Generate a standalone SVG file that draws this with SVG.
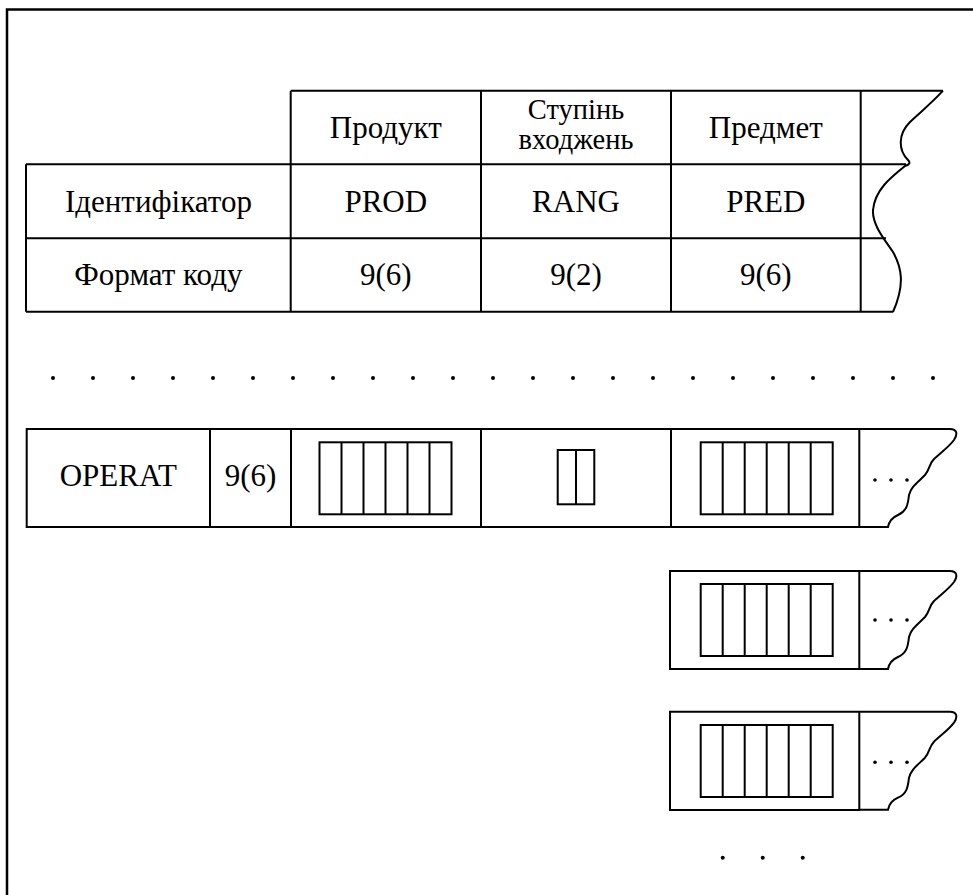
<svg xmlns="http://www.w3.org/2000/svg" xmlns:xlink="http://www.w3.org/1999/xlink" width="973" height="895" viewBox="0 0 973 895">
  <style>
    .ln { fill: none; stroke: #000; stroke-width: 2; }
    .frame { fill: none; stroke: #000; stroke-width: 2.5; }
    .cells { fill: none; stroke: #000; stroke-width: 2; }
    .t { font-family: "Liberation Serif", "DejaVu Serif", serif; font-size: 31px; fill: #000; text-anchor: middle; }
    .ts { font-family: "Liberation Serif", "DejaVu Serif", serif; font-size: 28.5px; fill: #000; text-anchor: middle; }
    .dot { fill: #000; }
  </style>
  <defs>
    <!-- torn right end of a record row, drawn from its top-left corner at x=859 -->
    <path id="torn" class="ln" d="M859,0 H950 C957,0 958,5 954,11 C948,19 940,24 934,30 C929,35 930,40 925,46 C917,54 911,58 909,66 C908,75 907,82 898,86 C891,89 889,93 888,98 H859"/>
    <!-- six-digit code field -->
    <g id="field6">
      <rect class="cells" x="0" y="0" width="132" height="72"/>
      <path class="cells" d="M22,0 V72 M44,0 V72 M66,0 V72 M88,0 V72 M110,0 V72"/>
    </g>
    <g id="ell3">
      <circle class="dot" cx="875" cy="0" r="1.8"/>
      <circle class="dot" cx="891" cy="0" r="1.8"/>
      <circle class="dot" cx="907" cy="0" r="1.8"/>
    </g>
  </defs>

  <!-- page frame (top and left edges) -->
  <path class="frame" d="M7,895 V9.5 H973"/>

  <!-- header table -->
  <g id="header-table" font-family="Liberation Serif, DejaVu Serif, serif">
    <path class="ln" d="M290.7,90.7 H943 M26,164.3 H906 M26,238.3 H886 M26,311.7 H893"/>
    <path class="ln" d="M26,164.3 V311.7 M290.7,90.7 V311.7 M481,90.7 V311.7 M671,90.7 V311.7 M860.7,90.7 V311.7"/>
    <path class="ln" d="M943,90.7 C930,105 918,114 910,122 C898,134 898,150 908,160 Q912,164 905,166 C890,178 875,190 873,210 C872,225 885,240 893,252 C902,268 905,285 893,312"/>
    <text class="t" x="385.8" y="138">Продукт</text>
    <text class="ts" x="576" y="119">Ступінь</text>
    <text class="ts" x="576" y="149">входжень</text>
    <text class="t" x="765.8" y="138">Предмет</text>
    <text class="t" x="158.4" y="212">Ідентифікатор</text>
    <text class="t" x="385.8" y="212">PROD</text>
    <text class="t" x="576" y="212">RANG</text>
    <text class="t" x="765.8" y="212">PRED</text>
    <text class="t" x="158.4" y="285">Формат коду</text>
    <text class="t" x="385.8" y="285">9(6)</text>
    <text class="t" x="576" y="285">9(2)</text>
    <text class="t" x="765.8" y="285">9(6)</text>
  </g>

  <!-- row of omission dots -->
  <g id="omission-row">
    <circle class="dot" cx="53" cy="378" r="2"/><circle class="dot" cx="93" cy="378" r="2"/><circle class="dot" cx="133" cy="378" r="2"/><circle class="dot" cx="173" cy="378" r="2"/><circle class="dot" cx="213" cy="378" r="2"/><circle class="dot" cx="253" cy="378" r="2"/><circle class="dot" cx="293" cy="378" r="2"/><circle class="dot" cx="333" cy="378" r="2"/><circle class="dot" cx="373" cy="378" r="2"/><circle class="dot" cx="413" cy="378" r="2"/><circle class="dot" cx="453" cy="378" r="2"/><circle class="dot" cx="493" cy="378" r="2"/><circle class="dot" cx="533" cy="378" r="2"/><circle class="dot" cx="573" cy="378" r="2"/><circle class="dot" cx="613" cy="378" r="2"/><circle class="dot" cx="653" cy="378" r="2"/><circle class="dot" cx="693" cy="378" r="2"/><circle class="dot" cx="733" cy="378" r="2"/><circle class="dot" cx="773" cy="378" r="2"/><circle class="dot" cx="813" cy="378" r="2"/><circle class="dot" cx="853" cy="378" r="2"/><circle class="dot" cx="893" cy="378" r="2"/><circle class="dot" cx="933" cy="378" r="2"/>
  </g>

  <!-- OPERAT record -->
  <g id="operat-record" font-family="Liberation Serif, DejaVu Serif, serif">
    <path class="ln" d="M859.3,429 H26.7 V527 H859.3"/>
    <path class="ln" d="M210,429 V527 M291,429 V527 M481,429 V527 M671,429 V527 M859.3,429 V527"/>
    <use xlink:href="#torn" transform="translate(0,429)"/>
    <text class="t" x="118.3" y="486">OPERAT</text>
    <text class="t" x="250.5" y="486">9(6)</text>
    <use xlink:href="#field6" transform="translate(319.5,442.3)"/>
    <rect class="cells" x="557.7" y="450" width="36.6" height="54.3"/>
    <path class="cells" d="M576,450 V504.3"/>
    <use xlink:href="#field6" transform="translate(700.7,442.3)"/>
    <use xlink:href="#ell3" transform="translate(0,480)"/>
  </g>

  <!-- continuation record 1 -->
  <g id="subject-record-2">
    <path class="ln" d="M859.3,571 H670 V669 H859.3 V571"/>
    <use xlink:href="#torn" transform="translate(0,571)"/>
    <use xlink:href="#field6" transform="translate(700.7,584)"/>
    <use xlink:href="#ell3" transform="translate(0,620)"/>
  </g>

  <!-- continuation record 2 -->
  <g id="subject-record-3">
    <path class="ln" d="M859.3,711.7 H670 V810 H859.3 V711.7"/>
    <use xlink:href="#torn" transform="translate(0,711.7)"/>
    <use xlink:href="#field6" transform="translate(700.7,725)"/>
    <use xlink:href="#ell3" transform="translate(0,762.3)"/>
  </g>

  <!-- trailing dots -->
  <g id="trailing-dots">
    <circle class="dot" cx="722.7" cy="857.7" r="2"/>
    <circle class="dot" cx="762.7" cy="857.7" r="2"/>
    <circle class="dot" cx="802.7" cy="857.7" r="2"/>
  </g>

  <!-- connectors: none in this layout -->
  <g id="connectors"/>
</svg>
